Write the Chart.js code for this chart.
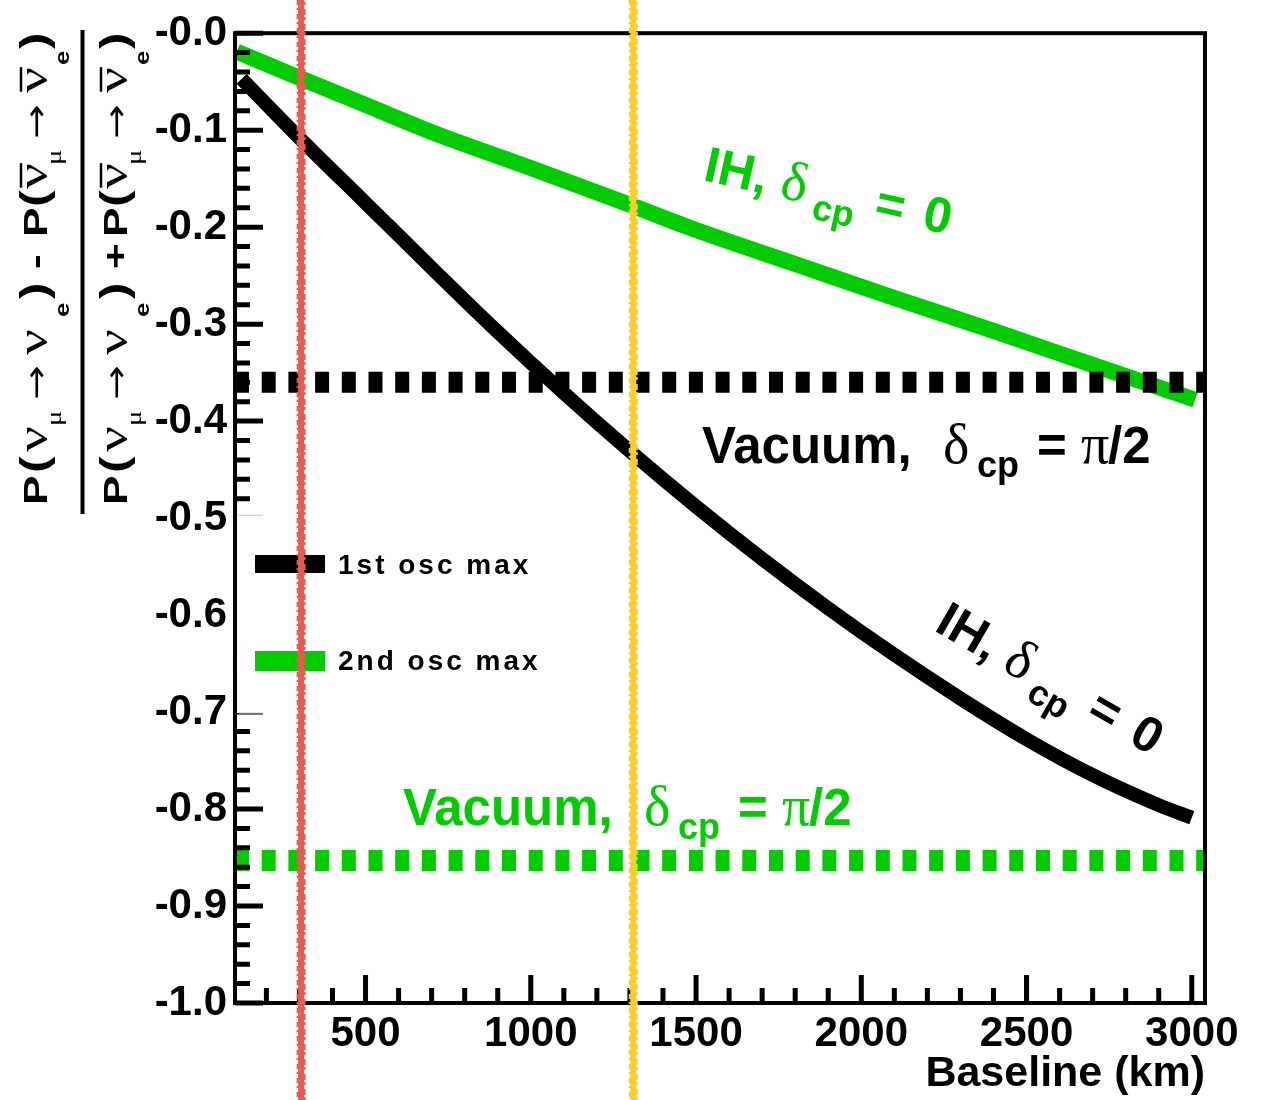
<!DOCTYPE html>
<html>
<head>
<meta charset="utf-8">
<title>CP asymmetry vs baseline</title>
<script src="https://cdn.jsdelivr.net/npm/chart.js@4.4.0/dist/chart.umd.min.js"></script>
<style>
  html, body { margin: 0; padding: 0; background: #fff; }
  #wrap { width: 1268px; height: 1100px; }
</style>
</head>
<body>
<div id="wrap"><canvas id="asymChart" width="1268" height="1100"></canvas></div>
<script>
// asymmetry (P(nu) - P(nubar)) / (P(nu) + P(nubar)) against baseline, IH with delta_cp = 0
var firstMaxKm = [125, 300, 500, 700, 900, 1100, 1300, 1500, 1700, 1900, 2100, 2300, 2500, 2700, 2900, 3000];
var firstMaxAsym = [-0.047, -0.108, -0.175, -0.242, -0.308, -0.371, -0.431, -0.488, -0.542, -0.593, -0.641, -0.686, -0.728, -0.765, -0.796, -0.809];

var secondMaxKm = [110, 300, 500, 700, 1000, 1300, 1500, 1800, 2100, 2400, 2700, 3010];
var secondMaxAsym = [-0.019, -0.046, -0.074, -0.102, -0.139, -0.177, -0.203, -0.238, -0.273, -0.307, -0.342, -0.378];

// vacuum value with delta_cp = pi/2: 1st osc max, 2nd osc max
var vacuumAsym = [-0.360, -0.853];

var baselineRange = [105, 3040];
var xTickValues = [500, 1000, 1500, 2000, 2500, 3000];
var yTickValues = [0, -0.1, -0.2, -0.3, -0.4, -0.5, -0.6, -0.7, -0.8, -0.9, -1.0];

// two experiment baselines marked on top
var markedBaselines = [305, 1310];

var SANS = "'Liberation Sans', Arial, sans-serif";
var SERIF = "'Liberation Serif', 'DejaVu Serif', serif";
var GREEN = '#00cc00';

Chart.defaults.font.family = SANS;
Chart.defaults.color = '#000';

function pts(xs, ys) {
  return xs.map(function (x, i) { return { x: x, y: ys[i] }; });
}

function flatLine(y) {
  return [{ x: baselineRange[0], y: y }, { x: baselineRange[1], y: y }];
}

// text pieces: [offset, text, font, dy, overbar height]
function drawPieces(ctx, x, y, angle, color, pieces, stretch) {
  ctx.save();
  ctx.translate(x, y);
  ctx.rotate(angle * Math.PI / 180);
  ctx.fillStyle = color;
  ctx.strokeStyle = color;
  ctx.textBaseline = 'alphabetic';
  ctx.textAlign = 'left';
  pieces.forEach(function (p) {
    ctx.save();
    ctx.translate(p[0], p[3] || 0);
    ctx.scale(stretch || 1, 1);
    ctx.font = p[2];
    ctx.fillText(p[1], 0, 0);
    if (p[4]) {
      var w = ctx.measureText(p[1]).width;
      ctx.lineWidth = 2.5;
      ctx.beginPath();
      ctx.moveTo(1, -p[4]);
      ctx.lineTo(w, -p[4]);
      ctx.stroke();
    }
    ctx.restore();
  });
  ctx.restore();
}

var vacuumText = [
  [0, 'Vacuum,', 'bold 51px ' + SANS],
  [241, 'δ', '56px ' + SERIF],
  [275, 'cp', 'bold 36px ' + SANS, 14],
  [335, '=', 'bold 51px ' + SANS],
  [379, 'π', '56px ' + SERIF],
  [406, '/2', 'bold 51px ' + SANS]
];

var ihText = [
  [0, 'IH,', 'bold 50px ' + SANS],
  [78, 'δ', '56px ' + SERIF],
  [114, 'cp', 'bold 36px ' + SANS, 14],
  [175, '=', 'bold 50px ' + SANS],
  [224, '0', 'bold 50px ' + SANS]
];

function asymTitle(sign) {
  var N = 'bold 34px ' + SANS, PAR = 'bold 38px ' + SANS, G = '44px ' + SERIF,
      SUB = '22px ' + SERIF, SUBE = 'bold 20px ' + SANS, AR = '32px "DejaVu Sans"';
  return [
    [0, 'P', N], [32, '(', PAR], [53, 'ν', G], [79, 'μ', SUB, 14], [105, '→', AR],
    [150, 'ν', G], [188, 'e', SUBE, 22], [206, ')', PAR], [236, sign, N],
    [268, 'P', N], [298, '(', PAR], [316, 'ν', G, 0, 26], [340, 'μ', SUB, 14],
    [366, '→', AR], [412, 'ν', G, 0, 26], [440, 'e', SUBE, 22], [456, ')', PAR]
  ];
}

var rootStyle = {
  id: 'rootStyle',
  afterDatasetsDraw: function (chart) {
    var ctx = chart.ctx, a = chart.chartArea;
    var xs = chart.scales.x, ys = chart.scales.y;
    ctx.save();

    // inward ticks, left and bottom only
    ctx.strokeStyle = '#000';
    ctx.lineWidth = 5;
    ctx.beginPath();
    for (var k = 0; k <= 50; k++) {
      var y = ys.getPixelForValue(-k * 0.02);
      ctx.moveTo(a.left, y);
      ctx.lineTo(a.left + (k % 5 === 0 ? 28 : 15), y);
    }
    for (var km = 200; km <= 3000; km += 100) {
      var x = xs.getPixelForValue(km);
      ctx.moveTo(x, a.bottom);
      ctx.lineTo(x, a.bottom - (km % 500 === 0 ? 28 : 15));
    }
    ctx.stroke();

    // legend
    var ly0 = ys.getPixelForValue(-0.497), ly1 = ys.getPixelForValue(-0.701);
    ctx.fillStyle = '#fff';
    ctx.fillRect(a.left + 2, ly0, 330, ly1 - ly0);
    ctx.strokeStyle = '#ccc';
    ctx.lineWidth = 1;
    ctx.beginPath();
    ctx.moveTo(a.left + 4, ly0); ctx.lineTo(a.left + 28, ly0);
    ctx.moveTo(a.left + 4, ly1); ctx.lineTo(a.left + 28, ly1);
    ctx.stroke();

    ctx.lineWidth = 18;
    ctx.strokeStyle = '#000';
    ctx.beginPath(); ctx.moveTo(255, 564); ctx.lineTo(325, 564); ctx.stroke();
    ctx.lineWidth = 20;
    ctx.strokeStyle = GREEN;
    ctx.beginPath(); ctx.moveTo(255, 661); ctx.lineTo(325, 661); ctx.stroke();

    ctx.fillStyle = '#000';
    ctx.font = 'bold 28px ' + SANS;
    ctx.textBaseline = 'middle';
    ctx.letterSpacing = '3px';
    ctx.fillText('1st osc max', 338, 566);
    ctx.fillText('2nd osc max', 338, 662);
    ctx.letterSpacing = '0px';

    // frame
    ctx.strokeStyle = '#000';
    ctx.lineWidth = 4;
    ctx.strokeRect(a.left, a.top, a.right - a.left, a.bottom - a.top);

    // curve labels
    drawPieces(ctx, 702, 180, 12.5, GREEN, ihText);
    drawPieces(ctx, 933, 630, 30, '#000', ihText);
    drawPieces(ctx, 702, 463, 0, '#000', vacuumText);
    drawPieces(ctx, 403, 825, 0, GREEN, vacuumText);

    // y axis title as a fraction
    drawPieces(ctx, 47, 505, -90, '#000', asymTitle('-'), 1.3);
    drawPieces(ctx, 127, 505, -90, '#000', asymTitle('+'), 1.3);
    ctx.fillStyle = '#000';
    ctx.fillRect(80.5, 30, 4, 484);

    ctx.restore();
  },
  afterDraw: function (chart) {
    var ctx = chart.ctx, xs = chart.scales.x;
    var colors = ['rgb(232, 90, 80)', 'rgb(245, 208, 40)'];
    markedBaselines.forEach(function (km, i) {
      var x = xs.getPixelForValue(km);
      ctx.save();
      ctx.strokeStyle = colors[i];
      ctx.lineWidth = 6;
      ctx.beginPath(); ctx.moveTo(x, 0); ctx.lineTo(x, chart.height); ctx.stroke();
      // ragged crayon edges
      ctx.lineWidth = 2;
      ctx.setLineDash([5, 3, 2, 4]);
      ctx.beginPath(); ctx.moveTo(x - 3.5, 0); ctx.lineTo(x - 3.5, chart.height); ctx.stroke();
      ctx.setLineDash([3, 4, 6, 2]);
      ctx.beginPath(); ctx.moveTo(x + 3.5, 2); ctx.lineTo(x + 3.5, chart.height); ctx.stroke();
      ctx.restore();
    });
  }
};

var ctx = document.getElementById('asymChart').getContext('2d');

var asymChart = new Chart(ctx, {
  type: 'line',
  data: {
    datasets: [
      {
        label: '1st osc max, vacuum',
        data: flatLine(vacuumAsym[0]),
        borderColor: '#000',
        borderWidth: 21,
        borderDash: [14, 12.7],
        borderCapStyle: 'butt'
      },
      {
        label: '2nd osc max, vacuum',
        data: flatLine(vacuumAsym[1]),
        borderColor: GREEN,
        borderWidth: 21,
        borderDash: [14, 12.7],
        borderCapStyle: 'butt'
      },
      {
        label: '1st osc max',
        data: pts(firstMaxKm, firstMaxAsym),
        borderColor: '#000',
        borderWidth: 14,
        cubicInterpolationMode: 'monotone'
      },
      {
        label: '2nd osc max',
        data: pts(secondMaxKm, secondMaxAsym),
        borderColor: GREEN,
        borderWidth: 16,
        cubicInterpolationMode: 'monotone'
      }
    ]
  },
  options: {
    responsive: false,
    animation: false,
    elements: { point: { radius: 0 } },
    layout: { padding: { left: 0, top: 28, right: 63, bottom: 0 } },
    plugins: {
      legend: { display: false },
      tooltip: { enabled: false }
    },
    scales: {
      x: {
        type: 'linear',
        min: baselineRange[0],
        max: baselineRange[1],
        grid: { display: false, drawTicks: false },
        border: { display: false },
        afterBuildTicks: function (s) {
          s.ticks = xTickValues.map(function (v) { return { value: v }; });
        },
        afterFit: function (s) { s.height = 97; },
        ticks: {
          autoSkip: false,
          maxRotation: 0,
          padding: 6,
          color: '#000',
          font: { size: 42, weight: 'bold' },
          callback: function (v) { return String(v); }
        },
        title: {
          display: true,
          text: 'Baseline (km)',
          align: 'end',
          color: '#000',
          font: { size: 43, weight: 'bold' },
          padding: { top: 0, bottom: 0 }
        }
      },
      y: {
        min: -1,
        max: 0,
        grid: { display: false, drawTicks: false },
        border: { display: false },
        afterBuildTicks: function (s) {
          s.ticks = yTickValues.map(function (v) { return { value: v }; });
        },
        afterFit: function (s) { s.width = 235; },
        ticks: {
          padding: 8,
          color: '#000',
          font: { size: 42, weight: 'bold' },
          callback: function (v) { return '-' + Math.abs(v).toFixed(1); }
        }
      }
    }
  },
  plugins: [rootStyle]
});
</script>
</body>
</html>
